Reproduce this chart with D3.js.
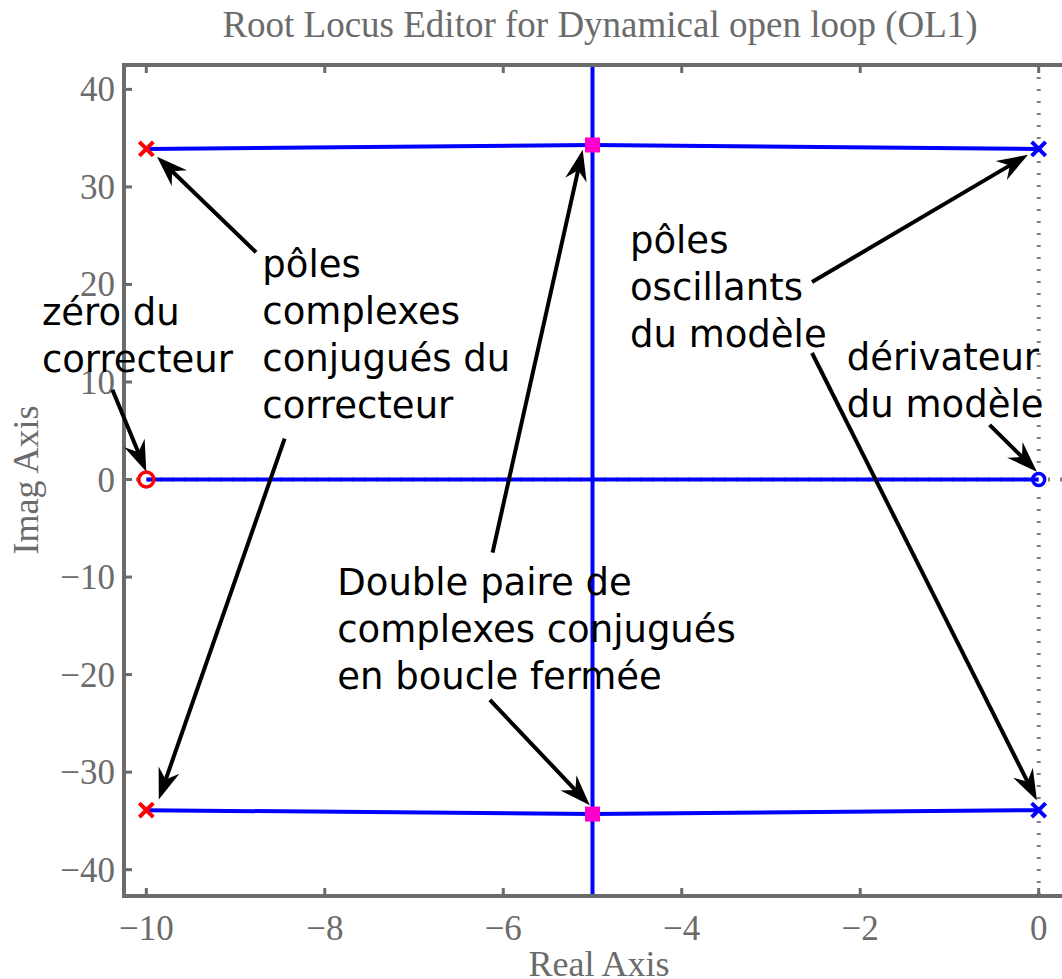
<!DOCTYPE html>
<html>
<head>
<meta charset="utf-8">
<script src="https://cdn.jsdelivr.net/npm/d3@7"></script>
<style>
  body { margin: 0; background: #fff; }
  svg { display: block; }
</style>
</head>
<body>
<div id="chart"></div>
<script>
// CONSTANTS
const WIDTH = 1062;
const HEIGHT = 979;
const AXIS_GREY = "#6b6b6b";

// DATA
const titleText = "Root Locus Editor for Dynamical open loop (OL1)";
const realTicks = [-10, -8, -6, -4, -2, 0];
const imagTicks = [40, 30, 20, 10, 0, -10, -20, -30, -40];

// locus branches (re, im)
const upperBranch = [[-10, 33.9], [-5, 34.3], [0, 33.9]];
const lowerBranch = [[-10, -33.9], [-5, -34.3], [0, -33.9]];
const realBranch = [[-10, 0], [0, 0]];
const verticalBranch = [[-5, 50], [-5, -50]];

// open loop poles / zeros, closed loop poles
const correctorPoles = [[-10, 33.9], [-10, -33.9]];
const correctorZeros = [[-10, 0]];
const modelPoles = [[0, 33.9], [0, -33.9]];
const modelZeros = [[0, 0]];
const closedLoopPoles = [[-5, 34.3], [-5, -34.3]];

// annotations: text lines, anchor (re, im), arrows [tail, tip]
const notes = [
  { lines: ["zéro du", "correcteur"], at: [-11.17, 15.84],
    arrows: [[[-10.38, 9.2], [-10.0, 0.8]]] },
  { lines: ["pôles", "complexes", "conjugués du", "correcteur"], at: [-8.70, 20.76],
    arrows: [[[-8.77, 23.3], [-9.88, 33.1]], [[-8.45, 4.2], [-9.86, -32.8]]] },
  { lines: ["Double paire de", "complexes conjugués", "en boucle fermée"], at: [-7.86, -11.84],
    arrows: [[[-6.12, -7.5], [-5.11, 33.8]], [[-6.15, -22.6], [-5.03, -33.4]]] },
  { lines: ["pôles", "oscillants", "du modèle"], at: [-4.58, 23.2],
    arrows: [[[-2.54, 20.25], [-0.12, 33.3]], [[-2.54, 12.97], [-0.02, -32.9]]] },
  { lines: ["dérivateur", "du modèle"], at: [-2.15, 11.23],
    arrows: [[[-0.55, 5.6], [-0.02, 0.8]]] }
];

// SCALES
const x = d3.scaleLinear().domain([-10.25, 0.25]).range([124, 1061]);
const y = d3.scaleLinear().domain([-42.7, 42.5]).range([896, 65]);

const svg = d3.select("#chart")
  .append("svg")
  .attr("width", WIDTH)
  .attr("height", HEIGHT);

svg.append("defs").append("clipPath")
  .attr("id", "plot-clip")
  .append("rect")
  .attr("x", x.range()[0])
  .attr("y", y.range()[1])
  .attr("width", x.range()[1] - x.range()[0] + 4)
  .attr("height", y.range()[0] - y.range()[1]);

// title
svg.append("text")
  .attr("x", 600)
  .attr("y", 37)
  .attr("text-anchor", "middle")
  .attr("font-family", "'Liberation Serif', 'Times New Roman', serif")
  .attr("font-size", 37)
  .attr("fill", AXIS_GREY)
  .text(titleText);

const plot = svg.append("g").attr("clip-path", "url(#plot-clip)");

// dotted imaginary / real axes
plot.append("line")
  .attr("x1", x(0)).attr("x2", x(0))
  .attr("y1", y.range()[1]).attr("y2", y.range()[0])
  .attr("stroke", "#808080")
  .attr("stroke-width", 4)
  .attr("stroke-dasharray", "2 10");
plot.append("line")
  .attr("x1", x.range()[0]).attr("x2", x.range()[1] + 4)
  .attr("y1", y(0)).attr("y2", y(0))
  .attr("stroke", "#808080")
  .attr("stroke-width", 4)
  .attr("stroke-dasharray", "2 10");

// locus branches
const line = d3.line().x(d => x(d[0])).y(d => y(d[1]));
[upperBranch, lowerBranch, realBranch, verticalBranch].forEach(b => {
  plot.append("path")
    .attr("d", line(b))
    .attr("fill", "none")
    .attr("stroke", "#0000ff")
    .attr("stroke-width", 4);
});

// markers
const drawCross = (pts, color) => {
  const s = 7;
  pts.forEach(p => {
    plot.append("path")
      .attr("d", `M${x(p[0]) - s},${y(p[1]) - s}L${x(p[0]) + s},${y(p[1]) + s}M${x(p[0]) - s},${y(p[1]) + s}L${x(p[0]) + s},${y(p[1]) - s}`)
      .attr("stroke", color)
      .attr("stroke-width", 4)
      .attr("stroke-linecap", "butt");
  });
};
const drawCircle = (pts, color, r) => {
  plot.selectAll(null)
    .data(pts)
    .enter()
    .append("circle")
    .attr("cx", d => x(d[0]))
    .attr("cy", d => y(d[1]))
    .attr("r", r)
    .attr("fill", "none")
    .attr("stroke", color)
    .attr("stroke-width", 3.5);
};
drawCross(correctorPoles, "#ff0000");
drawCross(modelPoles, "#0000ff");
drawCircle(correctorZeros, "#ff0000", 7.5);
drawCircle(modelZeros, "#0000ff", 6);

plot.selectAll(null)
  .data(closedLoopPoles)
  .enter()
  .append("rect")
  .attr("x", d => x(d[0]) - 7.5)
  .attr("y", d => y(d[1]) - 7.5)
  .attr("width", 15)
  .attr("height", 15)
  .attr("fill", "#ff00cc");

// AXES
const axisG = svg.append("g").attr("fill", "none").attr("stroke", AXIS_GREY);
realTicks.forEach(t => {
  axisG.append("line").attr("x1", x(t)).attr("x2", x(t))
    .attr("y1", y.range()[0]).attr("y2", y.range()[0] - 8).attr("stroke-width", 3);
  axisG.append("line").attr("x1", x(t)).attr("x2", x(t))
    .attr("y1", y.range()[1]).attr("y2", y.range()[1] + 8).attr("stroke-width", 3);
});
imagTicks.forEach(t => {
  axisG.append("line").attr("x1", x.range()[0]).attr("x2", x.range()[0] + 8)
    .attr("y1", y(t)).attr("y2", y(t)).attr("stroke-width", 3);
});
axisG.append("path")
  .attr("d", `M${x.range()[1] + 6},${y.range()[1]}H${x.range()[0]}V${y.range()[0]}H${x.range()[1] + 6}`)
  .attr("stroke-width", 4)
  .attr("stroke-linejoin", "miter");

const fmt = v => (v < 0 ? "\u2212" + Math.abs(v) : String(v));
const serif = "'Liberation Serif', 'Times New Roman', serif";

svg.append("g").selectAll("text")
  .data(realTicks)
  .enter()
  .append("text")
  .attr("x", d => x(d))
  .attr("y", 940)
  .attr("text-anchor", "middle")
  .attr("font-family", serif)
  .attr("font-size", 35)
  .attr("fill", AXIS_GREY)
  .text(fmt);

svg.append("g").selectAll("text")
  .data(imagTicks)
  .enter()
  .append("text")
  .attr("x", 115)
  .attr("y", d => y(d) + 12)
  .attr("text-anchor", "end")
  .attr("font-family", serif)
  .attr("font-size", 35)
  .attr("fill", AXIS_GREY)
  .text(fmt);

svg.append("text")
  .attr("x", 599)
  .attr("y", 976)
  .attr("text-anchor", "middle")
  .attr("font-family", serif)
  .attr("font-size", 36)
  .attr("fill", AXIS_GREY)
  .text("Real Axis");

svg.append("text")
  .attr("transform", `translate(38,480) rotate(-90)`)
  .attr("text-anchor", "middle")
  .attr("font-family", serif)
  .attr("font-size", 36)
  .attr("fill", AXIS_GREY)
  .text("Imag Axis");

// ANNOTATIONS
const ann = svg.append("g");
const arrow = (tail, tip) => {
  const x0 = x(tail[0]), y0 = y(tail[1]);
  const x1 = x(tip[0]), y1 = y(tip[1]);
  const len = Math.hypot(x1 - x0, y1 - y0);
  const ux = (x1 - x0) / len, uy = (y1 - y0) / len;
  const nx = -uy, ny = ux;
  const L = 31, W = 11, N = 10;
  const bx = x1 - L * ux, by = y1 - L * uy;
  const mx = x1 - (L - N) * ux, my = y1 - (L - N) * uy;
  ann.append("line")
    .attr("x1", x0).attr("y1", y0)
    .attr("x2", mx).attr("y2", my)
    .attr("stroke", "#000")
    .attr("stroke-width", 4);
  ann.append("path")
    .attr("d", `M${x1},${y1}L${bx + W * nx},${by + W * ny}L${mx},${my}L${bx - W * nx},${by - W * ny}Z`)
    .attr("fill", "#000");
};

notes.forEach(n => {
  const t = ann.append("text")
    .attr("font-family", "'DejaVu Sans', Verdana, sans-serif")
    .attr("font-size", 37)
    .attr("fill", "#000");
  n.lines.forEach((l, i) => {
    t.append("tspan")
      .attr("x", x(n.at[0]))
      .attr("y", y(n.at[1]) + i * 47)
      .text(l);
  });
  n.arrows.forEach(a => arrow(a[0], a[1]));
});
</script>
</body>
</html>
